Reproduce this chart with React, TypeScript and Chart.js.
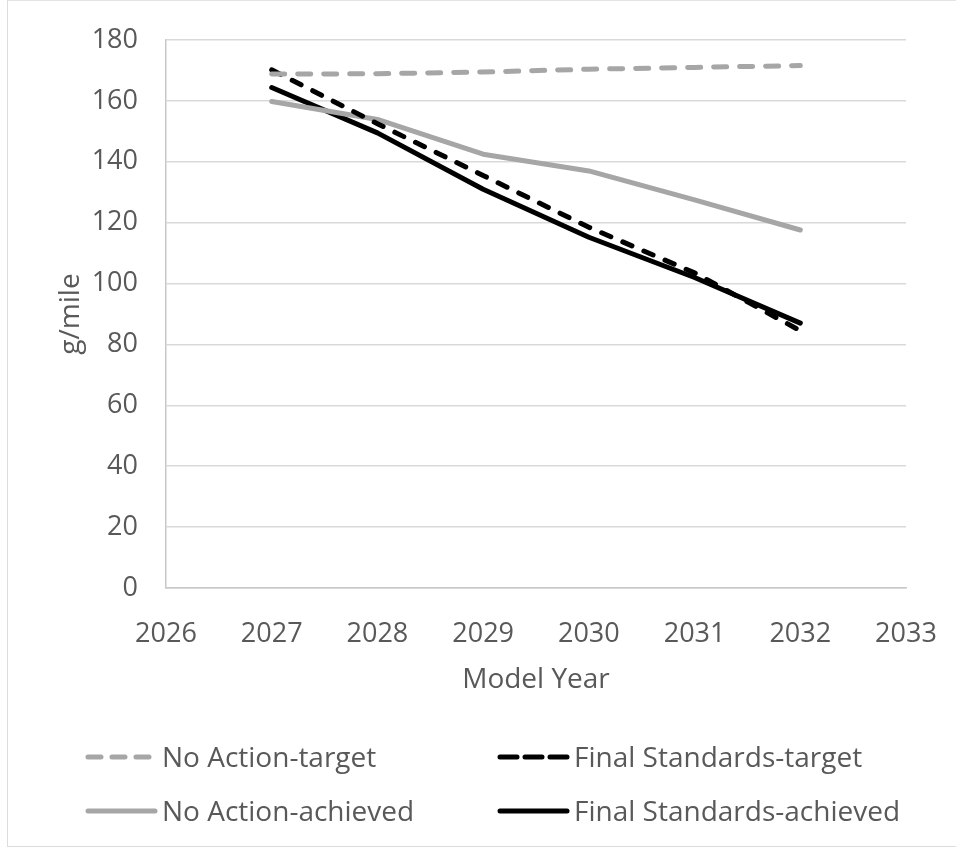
import { useEffect, useRef } from "react";
import { Chart, registerables } from "chart.js";

Chart.register(...registerables);

// Model years and g/mile values per series
const years = [2027, 2028, 2029, 2030, 2031, 2032];
const noActionTarget = [168.8, 168.9, 169.5, 170.4, 171.0, 171.6];
const finalStandardsTarget = [170.2, 152.5, 135.5, 118.5, 103.5, 84.5];
const noActionAchieved = [159.8, 153.9, 142.5, 137.0, 127.5, 117.6];
const finalStandardsAchieved = [164.4, 149.5, 131.0, 115.2, 102.0, 87.0];

const seriesLabels = [
  "No Action-target",
  "Final Standards-target",
  "No Action-achieved",
  "Final Standards-achieved",
];

const xMin = 2026;
const xMax = 2033;
const yMin = 0;
const yMax = 180;
const yStep = 20;

const xTitle = "Model Year";
const yTitle = "g/mile";

const FONT = "'Open Sans', sans-serif";
const TEXT = "#595959";
const GRAY = "#a6a6a6";

const toPoints = (vals: number[]) => vals.map((v, i) => ({ x: years[i], y: v }));

// Two-column legend drawn under the plot
const legendPlugin = {
  id: "twoColumnLegend",
  afterDraw(chart: any) {
    const ctx = chart.ctx as CanvasRenderingContext2D;
    const cols = [85, 497];
    const rows = [759, 813];
    const sampleLen = 73;
    chart.data.datasets.forEach((ds: any, i: number) => {
      const x = cols[i % 2];
      const y = rows[Math.floor(i / 2)];
      ctx.save();
      ctx.strokeStyle = ds.borderColor;
      ctx.lineWidth = ds.borderWidth;
      ctx.lineCap = "round";
      ctx.setLineDash(ds.legendDash || []);
      ctx.beginPath();
      ctx.moveTo(x + 3, y - 2);
      ctx.lineTo(x + sampleLen - 3, y - 2);
      ctx.stroke();
      ctx.setLineDash([]);
      ctx.fillStyle = TEXT;
      ctx.font = `28px ${FONT}`;
      ctx.textBaseline = "middle";
      ctx.textAlign = "left";
      ctx.fillText(ds.label, x + sampleLen + 4, y);
      ctx.restore();
    });
  },
};

export default function App() {
  const canvasRef = useRef<HTMLCanvasElement | null>(null);

  useEffect(() => {
    const canvas = canvasRef.current;
    if (!canvas) return;
    const chart = new Chart(canvas, {
      type: "line",
      data: {
        datasets: [
          {
            label: seriesLabels[0],
            data: toPoints(noActionTarget),
            borderColor: GRAY,
            borderWidth: 5,
            borderDash: [13, 13],
            borderCapStyle: "round",
            legendDash: [13, 11],
          } as any,
          {
            label: seriesLabels[1],
            data: toPoints(finalStandardsTarget),
            borderColor: "#000000",
            borderWidth: 5,
            borderDash: [10, 13],
            borderCapStyle: "round",
            legendDash: [17, 8],
          } as any,
          {
            label: seriesLabels[2],
            data: toPoints(noActionAchieved),
            borderColor: GRAY,
            borderWidth: 5,
            borderCapStyle: "round",
          } as any,
          {
            label: seriesLabels[3],
            data: toPoints(finalStandardsAchieved),
            borderColor: "#000000",
            borderWidth: 5,
            borderCapStyle: "round",
          } as any,
        ],
      },
      options: {
        animation: false,
        responsive: false,
        maintainAspectRatio: false,
        layout: { padding: { top: 40, right: 50, bottom: 0, left: 0 } },
        elements: {
          point: { radius: 0, hoverRadius: 0 },
          line: { tension: 0, borderJoinStyle: "round" },
        },
        plugins: {
          legend: { display: false },
          tooltip: { enabled: false },
        },
        scales: {
          x: {
            type: "linear",
            min: xMin,
            max: xMax,
            afterFit: (s: any) => {
              s.height = 262;
              s.paddingLeft = 0;
              s.paddingRight = 0;
            },
            ticks: {
              stepSize: 1,
              color: TEXT,
              font: { family: FONT, size: 27 },
              padding: 30,
              callback: (v: any) => String(v),
            },
            grid: { display: false, drawTicks: false },
            border: { display: true, color: "#c8c8c8", width: 1.5 },
            title: {
              display: true,
              text: xTitle,
              color: TEXT,
              font: { family: FONT, size: 28 },
              padding: { top: 0, bottom: 153 },
            },
          },
          y: {
            min: yMin,
            max: yMax,
            afterFit: (s: any) => {
              s.width = 166;
              s.paddingTop = 0;
              s.paddingBottom = 0;
            },
            ticks: {
              stepSize: yStep,
              color: TEXT,
              font: { family: FONT, size: 27 },
              padding: 28,
            },
            grid: { color: "#d9d9d9", lineWidth: 1.5, drawTicks: false },
            border: { display: true, color: "#c8c8c8", width: 1.5 },
            title: {
              display: true,
              text: yTitle,
              color: TEXT,
              font: { family: FONT, size: 28 },
              padding: { top: 54, bottom: 0 },
            },
          },
        },
      } as any,
      plugins: [legendPlugin],
    });
    return () => chart.destroy();
  }, []);

  return (
    <div
      style={{
        position: "absolute",
        left: 0,
        top: 0,
        width: 956,
        height: 850,
        background: "#ffffff",
      }}
    >
      <div
        style={{
          position: "absolute",
          left: 7,
          top: 0,
          width: 949,
          height: 847,
          borderLeft: "1px solid #dcdcdc",
          borderTop: "1px solid #e4e4e4",
          borderBottom: "1px solid #dcdcdc",
          boxSizing: "border-box",
        }}
      />
      <canvas
        ref={canvasRef}
        width={956}
        height={850}
        style={{ position: "absolute", left: 0, top: 0, width: 956, height: 850 }}
      />
    </div>
  );
}
